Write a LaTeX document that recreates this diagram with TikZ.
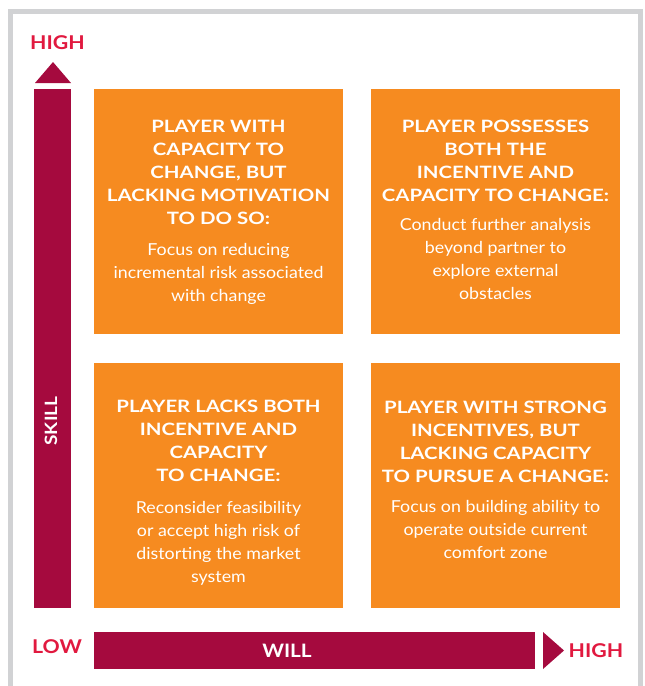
\documentclass[tikz,border=0pt]{standalone}
\usepackage{fontspec}
\setmainfont{Lato}
\newfontfamily\ttlfont[FakeStretch=1.2]{Lato}
\newfontfamily\bdyfont[FakeStretch=1.08]{Lato}
\newfontfamily\labfont[FakeStretch=1.12]{Lato}
\definecolor{barred}{HTML}{A50A3E}
\definecolor{quadorange}{HTML}{F68B20}
\definecolor{labelred}{HTML}{E1193F}
\definecolor{framegray}{HTML}{D1D2D4}
\begin{document}
\begin{tikzpicture}[x=1pt,y=-1pt,
  quad/.style={fill=quadorange, draw=none, minimum width=249pt, minimum height=245pt, inner sep=0pt, outer sep=0pt, anchor=north west},
  ttl/.style={font=\ttlfont\bfseries\fontsize{17}{23}\selectfont, text=white, align=center, inner sep=0pt, anchor=north},
  bdy/.style={font=\bdyfont\fontsize{16.5}{23}\selectfont, text=white, align=center, inner sep=0pt, anchor=north},
  axlab/.style={font=\labfont\bfseries\fontsize{19}{22}\selectfont, text=labelred, inner sep=0pt, anchor=base},
  barlab/.style={font=\labfont\bfseries\fontsize{18}{22}\selectfont, text=white, inner sep=0pt, anchor=base}]
\useasboundingbox (0,0) rectangle (645,686);
\clip (0,0) rectangle (645,686);
\fill[white] (0,0) rectangle (645,686);
\draw[framegray, line width=5.5pt] (10.5,700) -- (10.5,11.5) -- (640.5,11.5) -- (640.5,700);
% axes
\fill[barred] (34,89) rectangle (71,608);
\fill[barred] (35,83) -- (53,62) -- (71,83) -- cycle;
\fill[barred] (94,632) rectangle (535,669);
\fill[barred] (543,632) -- (564,650.5) -- (543,669) -- cycle;
\node[axlab] (hightop) at (57.5,49) {HIGH};
\node[axlab] (low) at (57,653) {LOW};
\node[axlab] (highright) at (596,657) {HIGH};
\node[barlab, font=\labfont\bfseries\fontsize{18.5}{22}\selectfont] (will) at (287,657) {WILL};
\node[barlab, font=\labfont\bfseries\fontsize{17}{22}\selectfont, rotate=90] (skill) at (57,421) {SKILL};
% quadrants
\node[quad] (tl) at (94,89) {};
\node[quad] (tr) at (371,89) {};
\node[quad] (bl) at (94,363) {};
\node[quad] (br) at (371,363) {};
% texts
\node[ttl] (tlt) at (218.5,119.8) {PLAYER WITH\\CAPACITY TO\\CHANGE, BUT\\LACKING MOTIVATION\\TO DO SO:};
\node[bdy] (tlb) at (218.5,242.8) {Focus on reducing\\incremental risk associated\\with change};
\node[ttl] (trt) at (495.5,119.8) {PLAYER POSSESSES\\BOTH THE\\INCENTIVE AND\\CAPACITY TO CHANGE:};
\node[bdy] (trb) at (495.5,217.8) {Conduct further analysis\\beyond partner to\\explore external\\obstacles};
\node[ttl] (blt) at (218.5,399.8) {PLAYER LACKS BOTH\\INCENTIVE AND\\CAPACITY\\TO CHANGE:};
\node[bdy] (blb) at (218.5,500.8) {Reconsider feasibility\\or accept high risk of\\distorting the market\\system};
\node[ttl] (brt) at (495.5,400.8) {PLAYER WITH STRONG\\INCENTIVES, BUT\\LACKING CAPACITY\\TO PURSUE A CHANGE:};
\node[bdy] (brb) at (495.5,499.8) {Focus on building ability to\\operate outside current\\comfort zone};
\end{tikzpicture}
\end{document}
